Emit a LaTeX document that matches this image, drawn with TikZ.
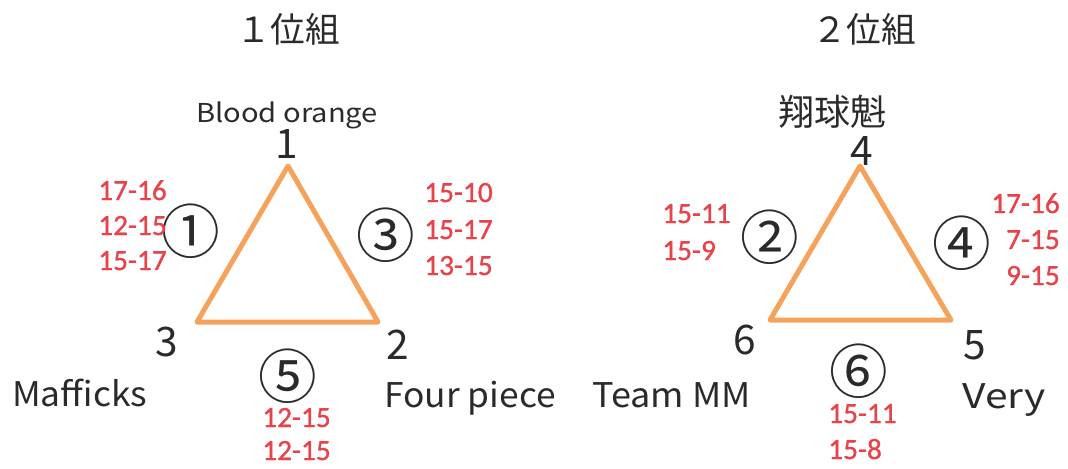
\documentclass[tikz,border=0pt]{standalone}
\usepackage{fontspec}
\setmainfont{Noto Sans CJK JP}
\newfontfamily\scorefont[FakeBold=1]{Carlito}
\definecolor{triorange}{HTML}{F5A35C}
\definecolor{scorered}{HTML}{E8434A}
\definecolor{ink}{HTML}{2A2A2A}
\begin{document}
\begin{tikzpicture}[x=0.75pt,y=-0.75pt,
  tri/.style={draw=triorange, line width=3.75pt, line join=round},
  sc/.style={text=scorered, font=\scorefont\fontsize{22}{22}\selectfont, inner sep=0pt},
  title/.style={text=ink, font=\fontsize{26}{26}\selectfont, inner sep=0pt},
  team/.style={text=ink, font=\fontsize{25.5}{26}\selectfont, inner sep=0pt, anchor=base west},
  small/.style={text=ink, font=\fontsize{19.5}{20}\selectfont, inner sep=0pt, anchor=base},
  rank/.style={text=ink, font=\fontsize{30.5}{31}\selectfont, inner sep=0pt, anchor=base},
  match/.style={text=ink, font=\fontsize{44}{44}\selectfont, inner sep=0pt}
]
\useasboundingbox (0,0) rectangle (1068,468);
% ---------- group 1 ----------
\node[title] (t1) at (288,29) {１位組};
\coordinate (A1) at (288,166);
\coordinate (B1) at (197,322);
\coordinate (C1) at (378,322);
\draw[tri] (A1) -- (C1) -- (B1) -- cycle;
\node[small,xscale=1.12] (n1) at (287,122) {Blood orange};
\node[rank] (r1) at (287,158) {1};
\node[rank] (r3) at (167,356) {3};
\node[rank] (r2) at (398,359) {2};
\node[team,xscale=1.04] (m3) at (12,406) {Mafficks};
\node[team,xscale=1.04] (m2) at (384,407) {Four piece};
\node[match] (g1) at (191,231) {①};
\node[match] (g3) at (386,235) {③};
\node[match] (g5) at (288,376) {⑤};
\node[sc,anchor=base west] (s11) at (98,200) {17-16};
\node[sc,anchor=base west] (s12) at (98,235) {12-15};
\node[sc,anchor=base west] (s13) at (98,270) {15-17};
\node[sc,anchor=base west] (s31) at (424,202) {15-10};
\node[sc,anchor=base west] (s32) at (424,239) {15-17};
\node[sc,anchor=base west] (s33) at (424,275) {13-15};
\node[sc,anchor=base west] (s51) at (262,427) {12-15};
\node[sc,anchor=base west] (s52) at (262,460) {12-15};
% ---------- group 2 ----------
\node[title] (t2) at (864,29) {２位組};
\coordinate (A2) at (860,166);
\coordinate (B2) at (770,320);
\coordinate (C2) at (951,320);
\draw[tri] (A2) -- (C2) -- (B2) -- cycle;
\node[match,font=\fontsize{27}{27}\selectfont] (n4) at (832,112) {翔球魁};
\node[rank] (r4) at (862,165) {4};
\node[rank] (r6) at (745,354) {6};
\node[rank] (r5) at (975,359) {5};
\node[team,xscale=1.06] (m6) at (592,407) {Team MM};
\node[team,xscale=1.2] (m5) at (962,408) {Very};
\node[match] (g2) at (770,237) {②};
\node[match] (g4) at (962,243) {④};
\node[match] (g6) at (859,371) {⑥};
\node[sc,anchor=base west] (s21) at (662,223) {15-11};
\node[sc,anchor=base west] (s22) at (662,260) {15-9};
\node[sc,anchor=base east] (s41) at (1060,213) {17-16};
\node[sc,anchor=base east] (s42) at (1060,249) {7-15};
\node[sc,anchor=base east] (s43) at (1060,285) {9-15};
\node[sc,anchor=base west] (s61) at (828,423) {15-11};
\node[sc,anchor=base west] (s62) at (828,459) {15-8};
\end{tikzpicture}
\end{document}
